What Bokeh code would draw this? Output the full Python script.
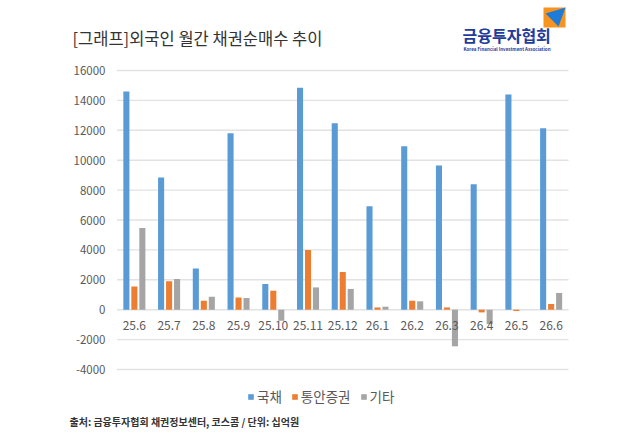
from bokeh.plotting import figure
from bokeh.models import ColumnDataSource, Range1d, Label, Legend, LegendItem
from bokeh.core.properties import value
from bokeh.embed import file_html
from bokeh.resources import INLINE

# ---- data (십억원) ----
months = ["25.6", "25.7", "25.8", "25.9", "25.10", "25.11", "25.12",
          "26.1", "26.2", "26.3", "26.4", "26.5", "26.6"]
gukchae = [14600, 8850, 2750, 11800, 1720, 14850, 12470,
           6920, 10930, 9640, 8390, 14390, 12140]
tongan = [1560, 1900, 600, 820, 1270, 4000, 2520,
          150, 600, 150, -180, -90, 380]
gita = [5470, 2050, 870, 780, -740, 1490, 1390,
        200, 560, -2450, -960, 0, 1120]
series_names = ["국채", "통안증권", "기타"]
yticks = [-4000, -2000, 0, 2000, 4000, 6000, 8000, 10000, 12000, 14000, 16000]

title_text = "[그래프]외국인 월간 채권순매수 추이"
logo_text = "금융투자협회"
logo_sub = "Korea Financial Investment Association"
source_text = "출처: 금융투자협회 채권정보센터, 코스콤 / 단위: 십억원"

KR = "Noto Sans CJK KR"
BLUE, ORANGE, GRAY = "#5B9BD5", "#ED7D31", "#A5A5A5"

# ---- layout (pixels) ----
W, H = 640, 442
FL, FR, FT, FB = 116.5, 568, 70, 369          # plot area
YMIN, YMAX = -4000, 16000
n = len(months)
ux = (FR - FL) / n                              # px per category
uy = (FB - FT) / (YMAX - YMIN)                  # px per unit

def px2x(X):
    return (X - FL) / ux
def px2y(Y):
    return YMIN + (FB - Y) / uy

p = figure(width=W, height=H,
           x_range=Range1d(px2x(0), px2x(W)), y_range=Range1d(px2y(H), px2y(0)),
           output_backend="svg", toolbar_location=None,
           min_border=0, min_border_left=0, min_border_right=0,
           min_border_top=0, min_border_bottom=0)
p.outline_line_color = None
p.axis.visible = False
p.grid.visible = False
p.background_fill_color = "white"
p.border_fill_color = "white"

xc = [i + 0.5 for i in range(n)]
bw = 0.175
off = 0.23
src = ColumnDataSource(dict(
    xc=xc, xa=[v - off for v in xc], xb=xc, xg=[v + off for v in xc],
    m=months, a=gukchae, b=tongan, c=gita, ly=[px2y(325)] * n))

# gridlines + y tick labels
gsrc = ColumnDataSource(dict(y=yticks, t=[str(v) for v in yticks],
                             x0=[0] * len(yticks), x1=[n] * len(yticks),
                             lx=[px2x(105)] * len(yticks)))
p.segment(x0="x0", y0="y", x1="x1", y1="y", source=gsrc,
          line_color="#E2E2E2", line_width=1.4)
p.text(x="lx", y="y", text="t", source=gsrc, text_align="right", text_baseline="middle",
       text_font=value(KR), text_font_size="11.5px", text_color="#595959")

r1 = p.vbar(x="xa", top="a", bottom=0, width=bw, source=src, fill_color=BLUE, line_color=None)
r2 = p.vbar(x="xb", top="b", bottom=0, width=bw, source=src, fill_color=ORANGE, line_color=None)
r3 = p.vbar(x="xg", top="c", bottom=0, width=bw, source=src, fill_color=GRAY, line_color=None)

p.text(x="xc", y="ly", text="m", source=src, text_align="center", text_baseline="middle",
       text_font=value(KR), text_font_size="12px", text_color="#595959")

def lab(text, X, Y, size, color, style="normal", align="left"):
    p.add_layout(Label(x=px2x(X), y=px2y(Y), text=text, text_font=KR,
                       text_font_size=size, text_color=color, text_font_style=style,
                       text_align=align, text_baseline="middle"))

lab(title_text, 72, 37, "16.5px", "#333333")

# logo mark (decoration)
p.quad(left=px2x(543), right=px2x(565), top=px2y(7), bottom=px2y(27),
       fill_color="#F7941D", line_color=None)
p.patch(x=[px2x(545), px2x(565), px2x(558)], y=[px2y(13), px2y(7), px2y(26)],
        fill_color="#1E7BD8", line_color=None)
lab(logo_text, 462, 34.5, "16px", "#1F3C9B", "bold")
lab(logo_sub, 463, 48.5, "4.5px", "#1F3C9B", "bold")

lab(source_text, 69, 421, "10px", "#333333", "bold")

legend = Legend(items=[LegendItem(label=series_names[0], renderers=[r1]),
                       LegendItem(label=series_names[1], renderers=[r2]),
                       LegendItem(label=series_names[2], renderers=[r3])],
                orientation="horizontal", location=(247, 36),
                glyph_width=7, glyph_height=7, label_standoff=3, spacing=9,
                padding=0, margin=0, border_line_color=None,
                background_fill_alpha=0,
                label_text_font=KR, label_text_font_size="13.5px",
                label_text_color="#595959")
p.add_layout(legend, "center")

open("out.html", "w").write(file_html(p, INLINE))
